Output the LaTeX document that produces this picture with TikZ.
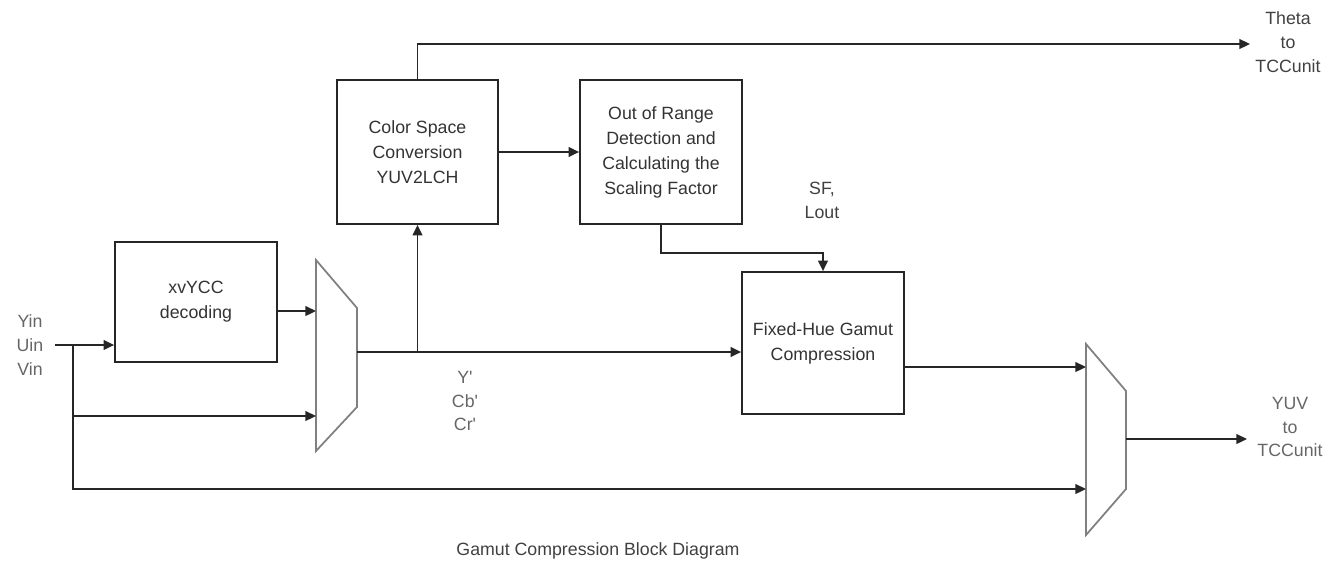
\documentclass[tikz,border=0pt]{standalone}
\usepackage{fontspec}
\setmainfont{Liberation Sans}
\usetikzlibrary{arrows.meta}
\begin{document}
\begin{tikzpicture}[x=0.02cm,y=-0.02cm,
  blk/.style={draw=black!85,line width=1pt,minimum width=3.24cm,inner sep=0pt,
    text=black!80,align=center,font=\fontsize{10.1}{14.2}\selectfont},
  lbl/.style={text=black!60,align=center,inner sep=0pt,font=\fontsize{10.1}{13.6}\selectfont},
  wire/.style={line width=1pt,black!85},
  arr/.style={wire,-{Triangle[length=6pt,width=5.5pt]}},
  muxline/.style={line width=1pt,black!50}]
\useasboundingbox (0,0) rectangle (1334,569);
\node[blk,minimum height=2.4cm] (xv) at (196,302) {xvYCC\\decoding};
\node[blk,minimum width=3.22cm,minimum height=2.88cm] (csc) at (417.5,152) {Color Space\\Conversion\\YUV2LCH};
\node[blk,minimum height=2.88cm] (ord) at (661,152) {Out of Range\\Detection and\\Calculating the\\Scaling Factor};
\node[blk,minimum height=2.84cm] (fh) at (823,343) {Fixed-Hue Gamut\\Compression};
\draw[muxline] (316,260) -- (357,308) -- (357,407) -- (316,451) -- cycle;
\draw[muxline] (1086,344) -- (1126,391) -- (1126,489) -- (1086,535) -- cycle;
\coordinate (in) at (55,345);
\coordinate (br) at (73,345);
\coordinate (m1a) at (316,311);
\coordinate (m1b) at (316,416);
\coordinate (m1o) at (357,352);
\coordinate (m2a) at (1086,367);
\coordinate (m2b) at (1086,489);
\coordinate (m2o) at (1126,439);
\coordinate (theta) at (1250,44);
\coordinate (yuv) at (1247,439);
\draw[arr] (in) -- (in -| xv.west);
\draw[arr] (br) |- (m1b);
\draw[arr] (br) |- (m2b);
\draw[arr] (xv.east |- m1a) -- (m1a);
\draw[arr] (m1o) -- (m1o -| fh.west);
\draw[arr] (csc.south |- m1o) -- (csc.south);
\draw[arr] (csc.north) |- (theta);
\draw[arr] (csc.east) -- (ord.west);
\draw[arr] (ord.south) -- (ord.south |- 0,253) -| (fh.north);
\draw[arr] (fh.east |- m2a) -- (m2a);
\draw[arr] (m2o) -- (yuv);
\node[lbl] (yuvin) at (30,345) {Yin\\Uin\\Vin};
\node[lbl] (ycc) at (465,401) {Y\textquotesingle\\Cb\textquotesingle\\Cr\textquotesingle};
\node[lbl,text=black!75] (sf) at (822,200) {SF,\\Lout};
\node[lbl,text=black!75] (thetalbl) at (1288,42) {Theta\\to\\TCCunit};
\node[lbl] (yuvlbl) at (1290,427) {YUV\\to\\TCCunit};
\node[lbl,text=black!75] (cap) at (598,551) {Gamut Compression Block Diagram};
\end{tikzpicture}
\end{document}
